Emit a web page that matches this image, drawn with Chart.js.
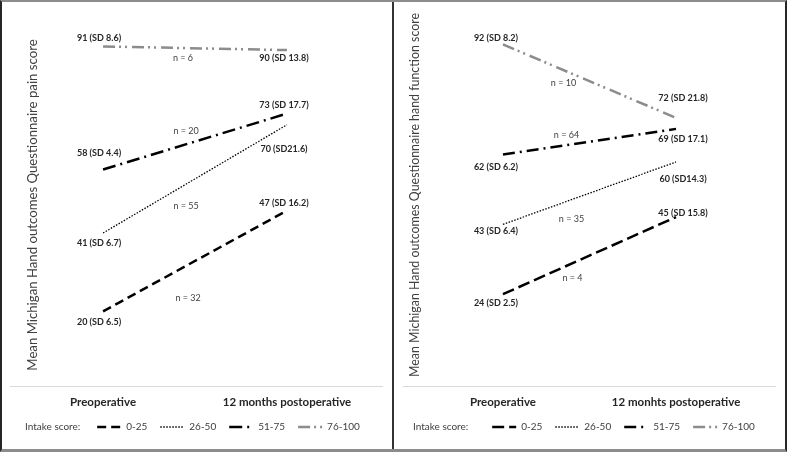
<!DOCTYPE html>
<html>
<head>
<meta charset="utf-8">
<script src="https://cdn.jsdelivr.net/npm/chart.js@4.4.1/dist/chart.umd.min.js"></script>
<style>
  html, body { margin: 0; padding: 0; background: #fff; }
  #wrap {
    width: 787px; height: 452px; box-sizing: border-box; display: flex;
    border-top: 2px solid #8c8c8c; border-bottom: 3px solid #8c8c8c;
    border-left: 2px solid #262626; border-right: 2px solid #262626;
  }
  #p1 { width: 390px; height: 447px; border-right: 2px solid #333; }
  #p2 { width: 391px; height: 447px; }
</style>
</head>
<body>
<div id="wrap">
  <div id="p1"><canvas id="painChart" width="390" height="447"></canvas></div>
  <div id="p2"><canvas id="funcChart" width="391" height="447"></canvas></div>
</div>
<script>
const intakeGroups = ['0-25', '26-50', '51-75', '76-100'];
const painPeriods = ['Preoperative', '12 months postoperative'];
const funcPeriods = ['Preoperative', '12 monhts postoperative'];

// Michigan Hand outcomes Questionnaire, pain score
const painPre = [20, 41, 58, 91];
const painPost = [47, 70, 73, 90];
const painSdPre = ['SD 6.5', 'SD 6.7', 'SD 4.4', 'SD 8.6'];
const painSdPost = ['SD 16.2', 'SD21.6', 'SD 17.7', 'SD 13.8'];
const painN = [32, 55, 20, 6];

// Michigan Hand outcomes Questionnaire, hand function score
const funcPre = [24, 43, 62, 92];
const funcPost = [45, 60, 69, 72];
const funcSdPre = ['SD 2.5', 'SD 6.4', 'SD 6.2', 'SD 8.2'];
const funcSdPost = ['SD 15.8', 'SD14.3', 'SD 17.1', 'SD 21.8'];
const funcN = [4, 35, 64, 10];

const FONT = 'Lato';
const groupColor = ['#000', '#000', '#000', '#8c8c8c'];
const groupWidth = [2.5, 1.3, 2.5, 2.5];

// y title, value labels, n labels, "Intake score:" and the grey separator line
const annotations = {
    id: 'annotations',
    afterDraw(chart, args, opts) {
        const ctx = chart.ctx;
        const area = chart.chartArea;
        ctx.save();
        ctx.strokeStyle = '#d9d9d9';
        ctx.lineWidth = 1;
        ctx.beginPath();
        ctx.moveTo(opts.lineLeft, Math.round(area.bottom) + 0.5);
        ctx.lineTo(chart.width - opts.lineRight, Math.round(area.bottom) + 0.5);
        ctx.stroke();

        ctx.textAlign = 'center';
        ctx.textBaseline = 'middle';
        chart.data.datasets.forEach((ds, i) => {
            const [a, b] = chart.getDatasetMeta(i).data;
            ctx.font = 'bold 9px ' + FONT;
            ctx.fillStyle = '#262626';
            ctx.fillText(ds.valueLabels[0], a.x + opts.dx[0], a.y + opts.preDy[i]);
            ctx.fillText(ds.valueLabels[1], b.x + opts.dx[1], b.y + opts.postDy[i]);
            ctx.font = '9px ' + FONT;
            ctx.fillStyle = '#404040';
            ctx.fillText('n = ' + ds.n, (a.x + b.x) / 2 + opts.nDx[i], (a.y + b.y) / 2 + opts.nDy[i]);
        });

        // axis title
        ctx.save();
        ctx.translate(opts.titleX, opts.titleY);
        ctx.rotate(-Math.PI / 2);
        ctx.font = opts.titleSize + 'px ' + FONT;
        ctx.fillStyle = '#404040';
        ctx.fillText(opts.title, 0, 0);
        ctx.restore();

        // legend caption
        const box = chart.legend.legendHitBoxes[0];
        ctx.textAlign = 'left';
        ctx.font = '10px ' + FONT;
        ctx.fillStyle = '#404040';
        ctx.fillText('Intake score:', opts.introX, box.top + box.height / 2);
        ctx.restore();
    }
};

function makeChart(id, cfg) {
    const datasets = intakeGroups.map((g, i) => ({
        label: g,
        data: [{ x: 0, y: cfg.pre[i] }, { x: 1, y: cfg.post[i] }],
        valueLabels: [cfg.pre[i] + ' (' + cfg.sdPre[i] + ')', cfg.post[i] + ' (' + cfg.sdPost[i] + ')'],
        n: cfg.n[i],
        borderColor: groupColor[i],
        backgroundColor: groupColor[i],
        borderWidth: groupWidth[i],
        borderDash: cfg.dashes[i],
        pointRadius: 0,
        tension: 0,
        fill: false
    }));

    return new Chart(document.getElementById(id), {
        type: 'line',
        data: { datasets },
        plugins: [annotations],
        options: {
            responsive: false,
            animation: false,
            layout: { padding: cfg.padding },
            scales: {
                x: {
                    type: 'linear',
                    min: cfg.xMin,
                    max: cfg.xMax,
                    afterBuildTicks: scale => { scale.ticks = [{ value: 0 }, { value: 1 }]; },
                    afterFit: scale => { scale.height = 23; },
                    grid: { display: false, drawTicks: false },
                    border: { display: false },
                    ticks: {
                        padding: 9,
                        maxRotation: 0,
                        autoSkip: false,
                        color: '#262626',
                        font: { family: FONT, size: 11.5, weight: 'bold' },
                        callback: v => cfg.periods[v]
                    }
                },
                y: {
                    display: false,
                    min: cfg.yMin,
                    max: cfg.yMax
                }
            },
            plugins: {
                tooltip: { enabled: false },
                legend: {
                    position: 'bottom',
                    labels: {
                        usePointStyle: true,
                        pointStyleWidth: 24,
                        padding: 13,
                        color: '#404040',
                        font: { family: FONT, size: 10 },
                        generateLabels: chart => chart.data.datasets.map((ds, i) => ({
                            text: ds.label,
                            fillStyle: ds.borderColor,
                            strokeStyle: ds.borderColor,
                            lineWidth: ds.borderWidth,
                            lineDash: ds.borderDash,
                            pointStyle: 'line',
                            hidden: false,
                            datasetIndex: i,
                            fontColor: '#404040'
                        }))
                    }
                },
                annotations: cfg.labels
            }
        }
    });
}

makeChart('painChart', {
    pre: painPre, post: painPost, sdPre: painSdPre, sdPost: painSdPost, n: painN,
    periods: painPeriods,
    dashes: [[9, 5], [1.5, 1.5], [13, 5, 2, 5], [12, 4, 2, 4, 2, 5]],
    padding: { left: 65, right: 2, top: 22, bottom: 7 },
    xMin: -0.196, xMax: 1.56, yMin: 0, yMax: 97,
    labels: {
        title: 'Mean Michigan Hand outcomes Questionnaire pain score',
        titleX: 31, titleY: 203, titleSize: 13.2,
        introX: 23,
        lineLeft: 8, lineRight: 9,
        dx: [-4, -3],
        preDy: [11, 10, -16, -8],
        postDy: [-8, 24, -8, 8],
        nDx: [-7, -9, -9, -12],
        nDy: [37, 27, -10, 10]
    }
});

makeChart('funcChart', {
    pre: funcPre, post: funcPost, sdPre: funcSdPre, sdPost: funcSdPost, n: funcN,
    periods: funcPeriods,
    dashes: [[12, 5], [1.5, 1.5], [12, 5, 2, 5], [12, 4, 2, 4, 2, 5]],
    padding: { left: 70, right: 2, top: 2, bottom: 7 },
    xMin: -0.225, xMax: 1.618, yMin: -1, yMax: 103,
    labels: {
        title: 'Mean Michigan Hand outcomes Questionnaire hand function score',
        titleX: 21, titleY: 193, titleSize: 12.4,
        introX: 19,
        lineLeft: 9, lineRight: 9,
        dx: [-7, 7],
        preDy: [9, 7, 12, -6],
        postDy: [-4, 17, 10, -20],
        nDx: [-17, -18, -23, -26],
        nDy: [22, 26, -7, 2]
    }
});
</script>
</body>
</html>
